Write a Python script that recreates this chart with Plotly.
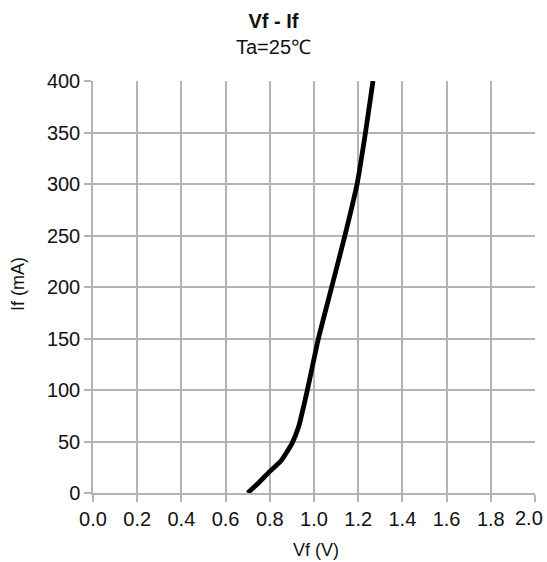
import plotly.graph_objects as go

vf = [0.70, 0.75, 0.80, 0.85, 0.90, 0.93, 0.97, 1.02, 1.08, 1.14, 1.195, 1.233, 1.267]
if_ma = [0, 10, 21, 31, 48, 64, 100, 150, 200, 250, 300, 350, 400]

x_ticks = [0.0, 0.2, 0.4, 0.6, 0.8, 1.0, 1.2, 1.4, 1.6, 1.8, 2.0]
y_ticks = [0, 50, 100, 150, 200, 250, 300, 350, 400]

FONT = "Liberation Sans, Arial, sans-serif"
GRID = "#b4b4b4"
TXT = "#111111"

W, H = 547, 562
L, R, T, B = 93, 12, 81, 69
PW, PH = W - L - R, H - T - B

x_labels = [f"{v:.1f}" for v in x_ticks]
# last label is placed by hand so that it stays inside the page, as in the reference
x_ticktext = x_labels[:-1] + [""]

fig = go.Figure()
fig.add_trace(go.Scatter(
    x=vf, y=if_ma, mode="lines",
    line=dict(color="black", width=4.8, shape="spline", smoothing=0.5),
    showlegend=False, hoverinfo="skip",
))

fig.update_layout(
    width=W, height=H,
    margin=dict(l=L, r=R, t=T, b=B),
    paper_bgcolor="white", plot_bgcolor="white",
    font=dict(family=FONT, size=20, color=TXT),
    title=dict(
        text="<b>Vf - If</b><br>Ta=25℃",
        x=0.5, xref="container", xanchor="center",
        y=1 - 27.5 / H, yref="container", yanchor="middle",
        font=dict(family=FONT, size=20, color=TXT),
    ),
    xaxis=dict(
        range=[0, 2.0], tickvals=x_ticks, ticktext=x_ticktext,
        tickfont=dict(size=20),
        showgrid=True, gridcolor=GRID, gridwidth=1.5,
        showline=True, linecolor=GRID, linewidth=1.5,
        ticks="outside", ticklen=7, tickcolor=GRID, tickwidth=1.5,
        zeroline=False, automargin=False,
    ),
    yaxis=dict(
        range=[0, 400], tickvals=y_ticks,
        tickfont=dict(size=20),
        showgrid=True, gridcolor=GRID, gridwidth=1.5,
        showline=True, linecolor=GRID, linewidth=1.5,
        ticks="outside", ticklen=7, tickcolor=GRID, tickwidth=1.5,
        zeroline=False, automargin=False,
    ),
    annotations=[
        dict(text=x_labels[-1], xref="paper", yref="paper",
             x=(545 - L) / PW, y=(H - B - 518) / PH,
             xanchor="right", yanchor="middle", showarrow=False,
             font=dict(family=FONT, size=20, color=TXT)),
        dict(text="Vf (V)", xref="paper", yref="paper",
             x=(316 - L) / PW, y=(H - B - 550) / PH,
             xanchor="center", yanchor="middle", showarrow=False,
             font=dict(family=FONT, size=18, color=TXT)),
        dict(text="If (mA)", xref="paper", yref="paper",
             x=(18 - L) / PW, y=(H - B - 284) / PH, textangle=-90,
             xanchor="center", yanchor="middle", showarrow=False,
             font=dict(family=FONT, size=18, color=TXT)),
    ],
)

fig.write_html(
    "out.html",
    config={"displayModeBar": False},
    post_script="document.body.style.margin='0';document.body.style.padding='0';",
)
